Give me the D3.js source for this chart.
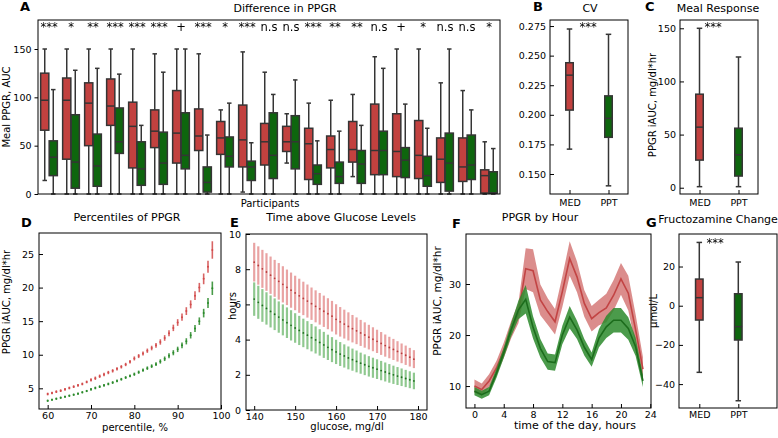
<!DOCTYPE html>
<html>
<head>
<meta charset="utf-8">
<script src="https://cdnjs.cloudflare.com/ajax/libs/d3/7.8.5/d3.min.js"></script>
<style>
  body { margin: 0; background: #fff; }
  svg text { font-family: "DejaVu Sans", sans-serif; fill: #000; }
</style>
</head>
<body>
<div id="fig"></div>
<script>
// ---------- data ----------
// A: per participant boxplots, [low whisker, q1, median, q3, high whisker]
const participants = d3.range(1, 22).map(String);
const medLow = [14, 0, 0, 0, 0, 0, 0, 0, 0, 2, 0, 32, 0, 0, 18, 0, 0, 0, 0, 0, 0];
const medQ1  = [66, 36, 50, 71, 27, 48, 32, 45, 41, 28, 30, 44, 15, 27, 33, 20, 18, 16, 12, 13, 1];
const medMid = [97, 97, 94, 91, 70, 65, 63, 60, 58, 56, 54, 54, 52, 46, 46, 45, 44, 40, 36, 28, 19];
const medQ3  = [125, 120, 115, 119, 95, 87, 107, 88, 75, 92, 73, 70, 68, 60, 75, 93, 83, 76, 58, 58, 25];
const medHigh= [150, 150, 150, 150, 150, 145, 150, 145, 87, 147, 126, 83, 94, 97, 103, 142, 150, 150, 115, 107, 54];
const pptLow = [0, 0, 0, 0, 0, 0, 0, 0, 0, 0, 0, 0, 0, 0, 0, 0, 0, 0, 0, 0, 0];
const pptQ1  = [19, 6, 8, 42, 9, 10, 26, 2, 28, 14, 16, 26, 10, 11, 11, 20, 17, 8, 3, 15, 1];
const pptMid = [38, 33, 29, 54, 26, 32, 40, 12, 39, 28, 40, 54, 21, 18, 31, 45, 35, 19, 32, 30, 1];
const pptQ3  = [55, 82, 62, 89, 54, 64, 84, 28, 59, 34, 84, 81, 30, 33, 45, 65, 48, 39, 63, 61, 23];
const pptHigh= [108, 128, 130, 124, 71, 126, 150, 61, 94, 53, 103, 118, 55, 65, 71, 130, 93, 68, 150, 87, 47];
const sigA = ["***","*","**","***","***","***","+","***","*","***","n.s","n.s","***","**","**","n.s","+","*","n.s","n.s","*"];

// B, C, G: two-group boxplots [low, q1, median, q3, high]
const groups = ["MED", "PPT"];
const cvBox   = { MED: [0.171, 0.204, 0.2335, 0.244, 0.2725], PPT: [0.140, 0.181, 0.197, 0.216, 0.268] };
const mealBox = { MED: [1, 26, 57, 88, 150], PPT: [1, 11, 31, 56, 123] };
const fructBox= { MED: [-34, -7.3, 4.1, 13.6, 32.3], PPT: [-48.5, -17.5, -10.7, 6.1, 22.3] };

// D: percentiles of PPGR
const pctl = [60,61,62,63,64,65,66,67,68,69,70,71,72,73,74,75,76,77,78,79,80,81,82,83,84,85,86,87,88,89,90,91,92,93,94,95,96,97,98];
const pctMed = [4.15,4.3,4.5,4.65,4.85,5.05,5.25,5.45,5.65,5.95,6.25,6.5,6.8,7.05,7.35,7.6,7.9,8.2,8.55,8.95,9.45,9.8,10.2,10.6,11.0,11.4,11.9,12.5,13.2,14.0,14.8,15.6,16.5,17.5,18.8,20.0,21.3,23.1,25.6];
const pctMedErr = [0.2,0.2,0.2,0.2,0.2,0.2,0.2,0.2,0.2,0.2,0.25,0.25,0.25,0.25,0.25,0.25,0.25,0.25,0.25,0.25,0.3,0.3,0.3,0.32,0.34,0.35,0.4,0.42,0.45,0.48,0.5,0.55,0.58,0.6,0.65,0.7,0.8,0.9,1.3];
const pctPpt = [3.15,3.3,3.45,3.6,3.75,3.9,4.05,4.2,4.4,4.6,4.85,5.05,5.25,5.45,5.65,5.85,6.1,6.35,6.6,6.85,7.1,7.4,7.7,8.0,8.3,8.6,9.0,9.4,9.85,10.3,10.8,11.4,12.0,12.9,13.9,15.0,16.2,17.7,19.9];
const pctPptErr = [0.16,0.16,0.16,0.16,0.16,0.16,0.16,0.16,0.16,0.16,0.2,0.2,0.2,0.2,0.2,0.2,0.2,0.2,0.2,0.2,0.24,0.24,0.24,0.26,0.27,0.28,0.32,0.34,0.36,0.38,0.4,0.44,0.46,0.48,0.52,0.56,0.64,0.75,1.0];

// E: time above glucose levels (hours)
const glucose = [140,141,142,143,144,145,146,147,148,149,150,151,152,153,154,155,156,157,158,159,160,161,162,163,164,165,166,167,168,169,170,171,172,173,174,175,176,177,178,179];
const tagMed = [8.40,8.21,8.02,7.84,7.66,7.48,7.31,7.14,6.97,6.81,6.65,6.49,6.34,6.19,6.04,5.89,5.75,5.61,5.47,5.33,5.15,5.01,4.88,4.75,4.62,4.50,4.38,4.26,4.14,4.02,3.90,3.78,3.66,3.55,3.44,3.33,3.22,3.11,3.00,2.89];
const tagMedErr = [1.10,1.09,1.08,1.07,1.06,1.05,1.04,1.03,1.01,1.00,0.98,0.97,0.95,0.94,0.92,0.91,0.90,0.89,0.88,0.87,0.86,0.84,0.82,0.80,0.78,0.76,0.74,0.72,0.70,0.68,0.66,0.65,0.63,0.61,0.60,0.58,0.56,0.55,0.53,0.51];
const tagPpt = [6.30,6.12,5.94,5.77,5.60,5.44,5.28,5.12,4.96,4.81,4.66,4.52,4.38,4.25,4.11,3.98,3.84,3.70,3.56,3.43,3.30,3.18,3.07,2.96,2.86,2.76,2.66,2.57,2.48,2.40,2.32,2.24,2.16,2.08,2.00,1.93,1.86,1.79,1.72,1.65];
const tagPptErr = [0.95,0.94,0.93,0.92,0.91,0.90,0.89,0.88,0.87,0.86,0.84,0.83,0.81,0.80,0.78,0.77,0.75,0.74,0.72,0.71,0.69,0.68,0.66,0.65,0.63,0.62,0.60,0.59,0.58,0.57,0.56,0.55,0.54,0.53,0.52,0.51,0.50,0.49,0.48,0.47];

// F: PPGR by hour (mean and half-width of band)
const hours = [0,1,2,3,4,5,6,7,8,9,10,11,12,13,14,15,16,17,18,19,20,21,22,23];
const hourMed = [10.0,9.3,11.0,13.5,17.0,21.0,24.3,33.0,32.6,26.9,24.6,22.6,28.5,35.0,31.4,26.2,23.2,24.4,25.3,27.8,31.0,28.2,21.0,13.3];
const hourMedBand = [1.3,1.2,1.3,1.4,1.5,1.7,2.0,4.0,4.2,3.0,2.6,2.5,3.0,3.4,3.0,2.6,2.5,2.5,2.8,3.0,3.1,3.4,3.0,2.4];
const hourPpt = [9.0,8.3,9.0,12.5,16.5,21.0,24.9,27.0,21.5,17.4,14.8,14.6,20.0,23.5,21.0,17.6,15.2,19.4,21.6,22.9,22.9,21.3,17.7,11.0];
const hourPptBand = [0.8,0.8,0.8,0.9,1.0,1.3,1.8,2.8,2.2,1.8,1.6,1.6,1.8,2.2,1.8,1.6,1.4,1.8,2.2,2.4,2.4,2.2,1.8,1.2];

// ---------- drawing ----------
const W = 778, H = 438;
const RED = "#c2413f", GREEN = "#0e660e", EDGE = "#353535";
const svg = d3.select("#fig").append("svg").attr("width", W).attr("height", H);
// grey filter for the significance marks (keeps their glyphs neutral)
svg.append("defs").append("filter").attr("id", "grey")
  .append("feColorMatrix").attr("type", "saturate").attr("values", 0);
const sigLayer = svg.append("g").attr("filter", "url(#grey)");

function txt(x, y, s, size, opts) {
  opts = opts || {};
  const t = (opts.parent || svg).append("text").attr("x", x).attr("y", y).text(s)
    .attr("font-size", size).attr("fill", "#000").attr("text-anchor", opts.anchor || "middle");
  if (opts.bold) t.attr("font-weight", "bold");
  if (opts.rotate) t.attr("x", null).attr("y", null).attr("transform", `translate(${x},${y}) rotate(-90)`);
  return t;
}

function sig(x, y, s) {
  return txt(x, y, s, 11.5, { parent: sigLayer }).attr("fill", "#111");
}

function frame(x0, x1, y0, y1) {
  svg.append("rect").attr("x", x0).attr("y", y0).attr("width", x1 - x0).attr("height", y1 - y0)
    .attr("fill", "none").attr("stroke", "#000").attr("stroke-width", 1);
}

function axis(ax, tx, ty) {
  const g = svg.append("g").attr("transform", `translate(${tx},${ty})`).call(ax);
  g.select(".domain").remove();
  g.attr("font-family", "DejaVu Sans").attr("font-size", 9.5);
  g.selectAll("line").attr("stroke", "#000");
  g.selectAll("text").attr("fill", "#000");
  return g;
}

function drawBox(cx, w, capW, y, v, fill) {
  const g = svg.append("g").attr("stroke", EDGE).attr("stroke-width", 1.5);
  g.append("line").attr("x1", cx).attr("x2", cx).attr("y1", y(v[0])).attr("y2", y(v[1]));
  g.append("line").attr("x1", cx).attr("x2", cx).attr("y1", y(v[3])).attr("y2", y(v[4]));
  g.append("line").attr("x1", cx - capW / 2).attr("x2", cx + capW / 2).attr("y1", y(v[0])).attr("y2", y(v[0]));
  g.append("line").attr("x1", cx - capW / 2).attr("x2", cx + capW / 2).attr("y1", y(v[4])).attr("y2", y(v[4]));
  g.append("rect").attr("x", cx - w / 2).attr("width", w)
    .attr("y", y(v[3])).attr("height", Math.max(0.5, y(v[1]) - y(v[3]))).attr("fill", fill);
  g.append("line").attr("x1", cx - w / 2).attr("x2", cx + w / 2).attr("y1", y(v[2])).attr("y2", y(v[2]));
}

// ===== A =====
{
  const x0 = 38, x1 = 500, y0 = 20, y1 = 194;
  const x = d3.scaleBand().domain(participants).range([x0, x1]);
  const hue = d3.scaleBand().domain(groups).range([x.bandwidth() * 0.12, x.bandwidth() * 0.88]).paddingInner(0.04);
  const y = d3.scaleLinear().domain([0, 180]).range([y1, y0]);
  participants.forEach((p, i) => {
    const bx = x(p);
    drawBox(bx + hue("MED") + hue.bandwidth() / 2, hue.bandwidth(), 4.5, y,
      [medLow[i], medQ1[i], medMid[i], medQ3[i], medHigh[i]], RED);
    drawBox(bx + hue("PPT") + hue.bandwidth() / 2, hue.bandwidth(), 4.5, y,
      [pptLow[i], pptQ1[i], pptMid[i], pptQ3[i], pptHigh[i]], GREEN);
    sig(bx + x.bandwidth() / 2, 31, sigA[i]);
  });
  axis(d3.axisLeft(y).tickValues([0, 50, 100, 150]).tickSize(3.5).tickPadding(3), x0, 0);
  frame(x0, x1, y0, y1);
  txt(285, 12, "Difference in PPGR", 11);
  txt(270, 207, "Participants", 10);
  txt(10, 107, "Meal PPGR, AUC", 10, { rotate: true });
  txt(20, 11, "A", 13, { bold: true, anchor: "start" });
}

// ===== B / C =====
function twoBox(x0, x1, y0, y1, dom, data, ticks, fmt) {
  const x = d3.scalePoint().domain(groups).range([x0, x1]).padding(0.5);
  const y = d3.scaleLinear().domain(dom).range([y1, y0]);
  drawBox(x("MED"), 7.5, 5.5, y, data.MED, RED);
  drawBox(x("PPT"), 7.5, 5.5, y, data.PPT, GREEN);
  axis(d3.axisLeft(y).tickValues(ticks).tickFormat(fmt).tickSize(-4).tickPadding(4), x0, 0);
  axis(d3.axisBottom(x).tickSize(-4).tickPadding(5), 0, y1);
  frame(x0, x1, y0, y1);
  return { x, y };
}
{
  twoBox(550, 628, 20, 194, [0.1331, 0.2801], cvBox, [0.150, 0.175, 0.200, 0.225, 0.250, 0.275], d3.format(".3f"));
  sig(588, 31, "***");
  txt(590, 12, "CV", 11);
  txt(533, 11, "B", 13, { bold: true, anchor: "start" });

  twoBox(680, 758, 20, 194, [-5.9, 157.8], mealBox, [0, 50, 100, 150], d3.format("d"));
  sig(713, 31, "***");
  txt(718, 12, "Meal Response", 11);
  txt(645, 11, "C", 13, { bold: true, anchor: "start" });
  txt(656, 105, "PPGR iAUC, mg/dl*hr", 10, { rotate: true });
}

// ===== D =====
{
  const x0 = 39, x1 = 221, y0 = 233, y1 = 409;
  const x = d3.scaleLinear().domain([58, 100]).range([x0, x1]);
  const y = d3.scaleLinear().domain([1.92, 28.13]).range([y1, y0]);
  const series = [[pctMed, pctMedErr, "#d24a4a"], [pctPpt, pctPptErr, "#2a8a2a"]];
  series.forEach(([m, e, c]) => {
    const g = svg.append("g");
    g.selectAll("line").data(pctl).join("line")
      .attr("x1", (d) => x(d)).attr("x2", (d) => x(d))
      .attr("y1", (d, i) => y(m[i] - e[i])).attr("y2", (d, i) => y(m[i] + e[i]))
      .attr("stroke", c).attr("stroke-width", 1.6).attr("opacity", 0.85);
    g.selectAll("circle").data(pctl).join("circle")
      .attr("cx", (d) => x(d)).attr("cy", (d, i) => y(m[i])).attr("r", 1)
      .attr("fill", c);
  });
  axis(d3.axisLeft(y).tickValues([5, 10, 15, 20, 25]).tickSize(-4).tickPadding(5), x0, 0);
  axis(d3.axisBottom(x).tickValues([60, 70, 80, 90, 100]).tickSize(-4).tickPadding(3), 0, y1);
  frame(x0, x1, y0, y1);
  txt(127, 221, "Percentiles of PPGR", 11);
  txt(135, 431, "percentile, %", 10);
  txt(10, 302, "PPGR iAUC, mg/dl*hr", 10, { rotate: true });
  txt(21, 227, "D", 13, { bold: true, anchor: "start" });
}

// ===== E =====
{
  const x0 = 246, x1 = 427, y0 = 234, y1 = 410;
  const x = d3.scaleLinear().domain([138, 182.2]).range([x0, x1]);
  const y = d3.scaleLinear().domain([0, 10]).range([y1, y0]);
  const series = [[tagMed, tagMedErr, "#dc6c6c", "#b83c3c"], [tagPpt, tagPptErr, "#4ca84c", "#1f6e1f"]];
  series.forEach(([m, e, c, dc]) => {
    const g = svg.append("g");
    g.selectAll("line").data(glucose).join("line")
      .attr("x1", (d) => x(d)).attr("x2", (d) => x(d))
      .attr("y1", (d, i) => y(m[i] - e[i])).attr("y2", (d, i) => y(m[i] + e[i]))
      .attr("stroke", c).attr("stroke-width", 2.2).attr("opacity", 0.62);
    g.selectAll("circle").data(glucose).join("circle")
      .attr("cx", (d) => x(d)).attr("cy", (d, i) => y(m[i])).attr("r", 0.9)
      .attr("fill", dc);
  });
  axis(d3.axisLeft(y).tickValues([0, 2, 4, 6, 8, 10]).tickSize(-4).tickPadding(5), x0, 0);
  axis(d3.axisBottom(x).tickValues([140, 150, 160, 170, 180]).tickSize(-4).tickPadding(3), 0, y1);
  frame(x0, x1, y0, y1);
  txt(341, 221, "Time above Glucose Levels", 11);
  txt(347, 430, "glucose, mg/dl", 10);
  txt(236, 306, "hours", 10, { rotate: true });
  txt(230, 227, "E", 13, { bold: true, anchor: "start" });
}

// ===== F =====
{
  const x0 = 466, x1 = 651, y0 = 234, y1 = 408;
  const x = d3.scaleLinear().domain([-1.15, 24.1]).range([x0, x1]);
  const y = d3.scaleLinear().domain([5.7, 39.8]).range([y1, y0]);
  const series = [[hourMed, hourMedBand, "#c8504f", "#c24444", 0.65], [hourPpt, hourPptBand, "#2c8a2c", "#1c6c1c", 0.85]];
  series.forEach(([m, b, fc, lc, op]) => {
    const area = d3.area().x((d) => x(d)).y0((d, i) => y(m[i] - b[i])).y1((d, i) => y(m[i] + b[i]));
    const line = d3.line().x((d) => x(d)).y((d, i) => y(m[i]));
    svg.append("path").datum(hours).attr("d", area).attr("fill", fc).attr("opacity", op);
    svg.append("path").datum(hours).attr("d", line).attr("fill", "none").attr("stroke", lc).attr("stroke-width", 1.6);
  });
  axis(d3.axisLeft(y).tickValues([10, 20, 30]).tickSize(-4).tickPadding(5), x0, 0);
  axis(d3.axisBottom(x).tickValues([0, 4, 8, 12, 16, 20, 24]).tickSize(-4).tickPadding(3), 0, y1);
  frame(x0, x1, y0, y1);
  txt(540, 221, "PPGR by Hour", 11);
  txt(575, 429, "time of the day, hours", 11);
  txt(441, 301, "PPGR iAUC, mg/dl*hr", 10.5, { rotate: true });
  txt(452, 228, "F", 13, { bold: true, anchor: "start" });
}

// ===== G =====
{
  const x0 = 679, x1 = 777, y0 = 234, y1 = 408;
  const x = d3.scaleLinear().domain([-0.5, 2.0]).range([x0 + 0.8, x1 + 0.3]);
  const y = d3.scaleLinear().domain([-52.2, 36.6]).range([y1, y0]);
  drawBox(x(0), 7.5, 5.5, y, fructBox.MED, RED);
  drawBox(x(1), 7.5, 5.5, y, fructBox.PPT, GREEN);
  axis(d3.axisLeft(y).tickValues([-40, -20, 0, 20]).tickFormat((d) => d < 0 ? "\u2212" + Math.abs(d) : d).tickSize(-4).tickPadding(4), x0, 0);
  axis(d3.axisBottom(x).tickValues([0, 1]).tickFormat((d) => groups[d]).tickSize(-4).tickPadding(3), 0, y1);
  frame(x0, x1, y0, y1);
  sig(715, 247, "***");
  txt(718, 223, "Fructozamine Change", 11);
  txt(657, 311, "\u00b5mol/L", 10, { rotate: true });
  txt(646, 227, "G", 13, { bold: true, anchor: "start" });
}
</script>
</body>
</html>
